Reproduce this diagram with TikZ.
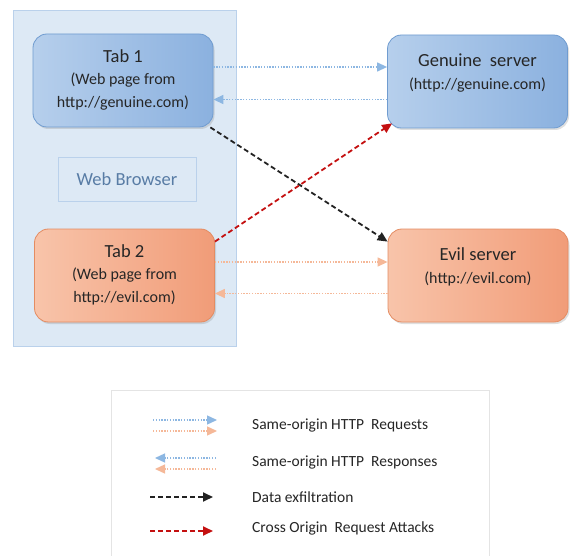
\documentclass[tikz,border=0pt]{standalone}
\usepackage{fontspec}
\setmainfont{Carlito}
\usetikzlibrary{arrows.meta,shadows,calc}
\definecolor{browserfill}{RGB}{221,233,245}
\definecolor{browserdraw}{RGB}{186,209,235}
\definecolor{wbtext}{RGB}{88,124,165}
\definecolor{blueL}{RGB}{182,207,236}
\definecolor{blueR}{RGB}{139,177,223}
\definecolor{blueB}{RGB}{112,156,208}
\definecolor{orL}{RGB}{248,196,170}
\definecolor{orR}{RGB}{241,156,120}
\definecolor{orB}{RGB}{228,140,98}
\definecolor{reqblue}{RGB}{141,183,226}
\definecolor{reqor}{RGB}{245,184,152}
\definecolor{exfil}{RGB}{34,34,34}
\definecolor{attack}{RGB}{196,16,16}
\definecolor{txt}{RGB}{38,38,38}
\definecolor{legdraw}{RGB}{228,228,228}
\newcommand{\ttl}[1]{{\fontsize{18.5}{22.5}\selectfont #1}}
\tikzset{
  boxbase/.style={rounded corners=14pt, minimum width=180pt, minimum height=93pt, line width=0.8pt,
    drop shadow={shadow xshift=1.5pt, shadow yshift=-2pt, opacity=0.25}},
  bluebox/.style={boxbase, draw=blueB, left color=blueL, right color=blueR},
  orbox/.style={boxbase, draw=orB, left color=orL, right color=orR},
  boxtext/.style={text=txt, align=center, inner sep=0pt, font=\fontsize{16}{22.5}\selectfont},
  dotarrow/.style={line width=1.3pt, dash pattern=on 1.4pt off 1.4pt, -{Triangle[width=9pt,length=10pt]}},
  blueflow/.style={dotarrow, draw=reqblue},
  orflow/.style={dotarrow, draw=reqor},
  dasharrow/.style={line width=1.8pt, dash pattern=on 5pt off 3pt, -{Triangle[width=9pt,length=10pt]}},
  legtext/.style={anchor=west, text=txt, font=\fontsize{15.5}{18}\selectfont, inner sep=0pt},
}
\begin{document}
\begin{tikzpicture}[x=1pt,y=-1pt]
\useasboundingbox (0,0) rectangle (570,556);
% browser
\node[draw=browserdraw, fill=browserfill, line width=0.8pt, minimum width=223pt, minimum height=336pt, inner sep=0pt] (browser) at (124.5,178) {};
\node[draw=browserdraw, fill=browserfill, line width=0.6pt, minimum width=138pt, minimum height=44pt, text=wbtext, font=\fontsize{18.5}{22}\selectfont] (wb) at (127,179) {Web Browser};
% boxes
\node[bluebox] (t1) at (123,80.5) {};
\node[orbox] (t2) at (124.5,275.5) {};
\node[bluebox] (gs) at (477.5,81.5) {};
\node[orbox] (ev) at (478,275.5) {};
% texts
\node[boxtext] (t1txt) at (123,79.5) {\ttl{Tab 1}\\(Web page from\\http://genuine.com)};
\node[boxtext] (t2txt) at (124.5,274.5) {\ttl{Tab 2}\\(Web page from\\http://evil.com)};
\node[boxtext] (gstxt) at (477.5,73) {\ttl{Genuine\ \ server}\\(http://genuine.com)};
\node[boxtext] (evtxt) at (478,267) {\ttl{Evil server}\\(http://evil.com)};
% flows
\draw[blueflow] ([yshift=13.5pt]t1.east) -- ([yshift=13.5pt]t1.east -| gs.west);
\draw[blueflow] ([yshift=-18pt]gs.west) -- ([yshift=-18pt]gs.west -| t1.east);
\draw[orflow] ([yshift=13.5pt]t2.east) -- ([yshift=13.5pt]t2.east -| ev.west);
\draw[orflow] ([yshift=-18pt]ev.west) -- ([yshift=-18pt]ev.west -| t2.east);
\draw[dasharrow, draw=exfil] ([xshift=-3pt]t1.south east) -- ([yshift=-13pt]ev.north west);
\draw[dasharrow, draw=attack] ([yshift=-13pt]t2.north east) -- ([xshift=5pt,yshift=5pt]gs.south west);
% legend
\node[fill=white, minimum width=377pt, minimum height=166pt, inner sep=0pt] (legend) at (300.5,474) {};
\draw[legdraw, line width=0.8pt] (legend.south west) -- (legend.north west) -- (legend.north east) -- (legend.south east);
\coordinate (l1a) at (153,420); \coordinate (l1b) at (217,420);
\coordinate (l2a) at (153,431); \coordinate (l2b) at (217,431);
\coordinate (l3a) at (216,458); \coordinate (l3b) at (155,458);
\coordinate (l4a) at (216,469); \coordinate (l4b) at (155,469);
\coordinate (l5a) at (150,497); \coordinate (l5b) at (213,497);
\coordinate (l6a) at (150,531); \coordinate (l6b) at (213,531);
\draw[blueflow] (l1a) -- (l1b);
\draw[orflow] (l2a) -- (l2b);
\draw[blueflow] (l3a) -- (l3b);
\draw[orflow] (l4a) -- (l4b);
\draw[dasharrow, draw=exfil] (l5a) -- (l5b);
\draw[dasharrow, draw=attack] (l6a) -- (l6b);
\node[legtext] (lt1) at (252,425) {Same-origin HTTP\ \ Requests};
\node[legtext] (lt2) at (252,462) {Same-origin HTTP\ \ Responses};
\node[legtext] (lt3) at (252,497) {Data exfiltration};
\node[legtext] (lt4) at (252,528) {Cross Origin\ \ Request Attacks};
\end{tikzpicture}
\end{document}
